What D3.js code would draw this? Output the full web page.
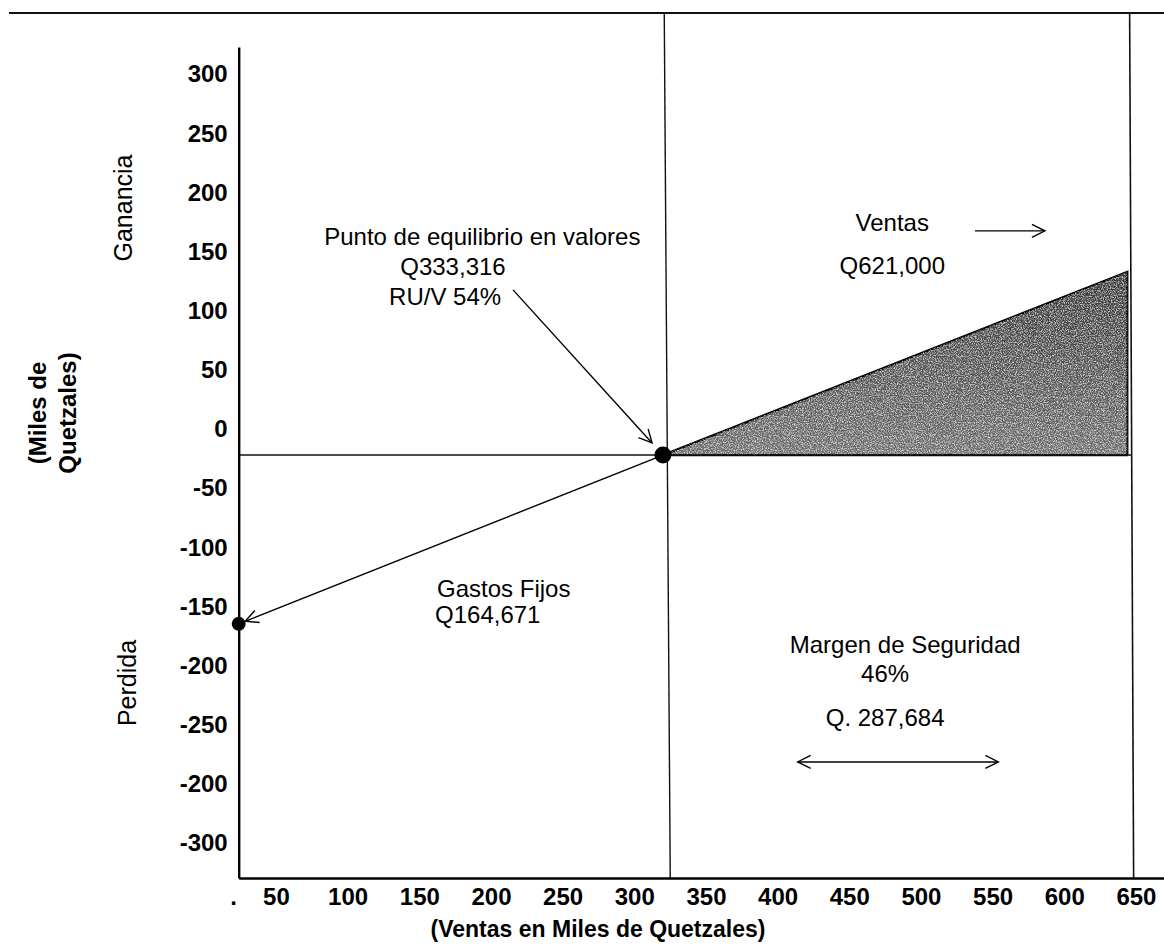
<!DOCTYPE html>
<html>
<head>
<meta charset="utf-8">
<script src="https://cdn.jsdelivr.net/npm/d3@7"></script>
<style>
  html, body { margin: 0; padding: 0; background: #fff; }
  svg { display: block; font-family: "Liberation Sans", Arial, sans-serif; }
</style>
</head>
<body>
<svg id="chart" width="1164" height="946"></svg>
<script>
// ---------- data ----------
const xTickValues = [20, 50, 100, 150, 200, 250, 300, 350, 400, 450, 500, 550, 600, 650];
const xTickLabels = [".", "50", "100", "150", "200", "250", "300", "350", "400", "450", "500", "550", "600", "650"];
const yTickValues = [300, 250, 200, 150, 100, 50, 0, -50, -100, -150, -200, -250, -300, -350];
const yTickLabels = ["300", "250", "200", "150", "100", "50", "0", "-50", "-100", "-150", "-200", "-250", "-200", "-300"];

const fixedCostPoint = [24, -164.671];   // Gastos fijos
const breakEvenPoint = [320, -22];       // Punto de equilibrio
const profitTop = [644, 133];            // Ventas line end
const baseLevel = -22;
const breakEvenLineX = 323;
const salesLineX = 647;

// annotations (data space)
const notes = [
  { text: "Punto de equilibrio en valores", x: 194, y: 162.5, anchor: "middle" },
  { text: "Q333,316", x: 173.5, y: 137.5, anchor: "middle" },
  { text: "RU/V 54%", x: 168, y: 112.5, anchor: "middle" },
  { text: "Ventas", x: 480, y: 174.5, anchor: "middle" },
  { text: "Q621,000", x: 480, y: 138, anchor: "middle" },
  { text: "Gastos Fijos", x: 162.4, y: -135, anchor: "start" },
  { text: "Q164,671", x: 161, y: -157, anchor: "start" },
  { text: "Margen de Seguridad", x: 489, y: -182.4, anchor: "middle" },
  { text: "46%", x: 475, y: -207, anchor: "middle" },
  { text: "Q. 287,684", x: 475, y: -244.2, anchor: "middle" }
];
const labelArrow = { from: [215.4, 117.7], to: [312.4, -11.7] };
const ventasArrow = { from: [537.7, 167.6], to: [586.5, 167.6] };
const marginArrow = { from: [414, -281.4], to: [554, -281.4] };

// ---------- scales ----------
const svg = d3.select("#chart");
const x = d3.scaleLinear().domain([24, 670]).range([238.7, 1164.6]);
const y = d3.scaleLinear().domain([-379.5, 323]).range([878, 47]);

// defs
const defs = svg.append("defs");
function arrowMarker(id, orientAuto) {
  defs.append("marker")
    .attr("id", id).attr("viewBox", "-14 -8 16 16")
    .attr("refX", 0).attr("refY", 0)
    .attr("markerWidth", 16).attr("markerHeight", 16)
    .attr("markerUnits", "userSpaceOnUse")
    .attr("orient", orientAuto)
    .append("path").attr("d", "M-13,-6.5 L0,0 L-13,6.5")
    .attr("fill", "none").attr("stroke", "#000").attr("stroke-width", 1.4);
}
arrowMarker("arrowEnd", "auto");
arrowMarker("arrowStart", "auto-start-reverse");

const grad = defs.append("linearGradient").attr("id", "triGrad")
  .attr("x1", 0).attr("y1", 0).attr("x2", 0).attr("y2", 1);
grad.append("stop").attr("offset", "0%").attr("stop-color", "#333");
grad.append("stop").attr("offset", "100%").attr("stop-color", "#6a6a6a");

const grain = defs.append("filter").attr("id", "grain")
  .attr("x", 0).attr("y", 0).attr("width", "100%").attr("height", "100%");
grain.append("feTurbulence").attr("type", "fractalNoise")
  .attr("baseFrequency", 0.85).attr("numOctaves", 2).attr("seed", 7).attr("result", "noise");
grain.append("feColorMatrix").attr("in", "noise").attr("type", "matrix")
  .attr("values", "0 0 0 0 1  0 0 0 0 1  0 0 0 0 1  3.2 0 0 0 -1.3").attr("result", "speck");
grain.append("feComposite").attr("in", "speck").attr("in2", "SourceGraphic").attr("operator", "in");

// ---------- frame line at top ----------
svg.append("line").attr("x1", 9).attr("x2", 1164).attr("y1", 13).attr("y2", 13)
  .attr("stroke", "#111").attr("stroke-width", 2);

// ---------- profit triangle ----------
const triPts = [breakEvenPoint, profitTop, [profitTop[0], baseLevel]];
const triPath = d3.line().x(d => x(d[0])).y(d => y(d[1]));
svg.append("path").attr("d", triPath(triPts) + "Z")
  .attr("fill", "url(#triGrad)").attr("stroke", "#000").attr("stroke-width", 2.2)
  .attr("stroke-linejoin", "miter");
svg.append("path").attr("d", triPath(triPts) + "Z")
  .attr("fill", "#fff").attr("filter", "url(#grain)").attr("opacity", 0.7);

// ---------- reference lines ----------
svg.append("line")
  .attr("x1", x(breakEvenLineX) - 3).attr("x2", x(breakEvenLineX) + 3)
  .attr("y1", 13).attr("y2", y(-379.5))
  .attr("stroke", "#111").attr("stroke-width", 1.4);
svg.append("line")
  .attr("x1", x(salesLineX) - 2).attr("x2", x(salesLineX) + 2)
  .attr("y1", 13).attr("y2", y(-379.5))
  .attr("stroke", "#111").attr("stroke-width", 1.6);
svg.append("line")
  .attr("x1", x(24)).attr("x2", x(salesLineX))
  .attr("y1", y(baseLevel)).attr("y2", y(baseLevel))
  .attr("stroke", "#111").attr("stroke-width", 1.5);

// ---------- loss line with arrow to fixed cost ----------
{
  const x1 = x(breakEvenPoint[0]), y1 = y(breakEvenPoint[1]);
  const x2 = x(fixedCostPoint[0]), y2 = y(fixedCostPoint[1]);
  const len = Math.hypot(x2 - x1, y2 - y1);
  const k = (len - 7) / len;
  svg.append("line").attr("x1", x1).attr("y1", y1)
    .attr("x2", x1 + (x2 - x1) * k).attr("y2", y1 + (y2 - y1) * k)
    .attr("stroke", "#000").attr("stroke-width", 1.4)
    .attr("marker-end", "url(#arrowEnd)");
}

// ---------- annotation arrows ----------
function arrow(a, both) {
  const l = svg.append("line")
    .attr("x1", x(a.from[0])).attr("y1", y(a.from[1]))
    .attr("x2", x(a.to[0])).attr("y2", y(a.to[1]))
    .attr("stroke", "#000").attr("stroke-width", 1.4)
    .attr("marker-end", "url(#arrowEnd)");
  if (both) l.attr("marker-start", "url(#arrowStart)");
}
arrow(labelArrow, false);
arrow(ventasArrow, false);
arrow(marginArrow, true);

// ---------- points ----------
svg.append("circle").attr("cx", x(breakEvenPoint[0])).attr("cy", y(breakEvenPoint[1]))
  .attr("r", 8.5).attr("fill", "#000");
svg.append("circle").attr("cx", x(fixedCostPoint[0])).attr("cy", y(fixedCostPoint[1]))
  .attr("r", 7).attr("fill", "#000");

// ---------- axes ----------
const xAxis = d3.axisBottom(x).tickValues(xTickValues)
  .tickFormat((d, i) => xTickLabels[i]).tickSize(0).tickPadding(10);
const gx = svg.append("g").attr("transform", `translate(0,${y(-379.5)})`).call(xAxis);
gx.select(".domain").attr("stroke", "#000").attr("stroke-width", 2.4);
gx.selectAll("text").attr("font-size", 24).attr("font-weight", "bold")
  .attr("font-family", "Liberation Sans, Arial, sans-serif").attr("fill", "#000");

const yAxis = d3.axisLeft(y).tickValues(yTickValues)
  .tickFormat((d, i) => yTickLabels[i]).tickSize(0).tickPadding(11);
const gy = svg.append("g").attr("transform", `translate(${x(24)},0)`).call(yAxis);
gy.select(".domain").attr("stroke", "#000").attr("stroke-width", 2.4);
gy.selectAll("text").attr("font-size", 24).attr("font-weight", "bold")
  .attr("font-family", "Liberation Sans, Arial, sans-serif").attr("fill", "#000");

// ---------- axis titles ----------
svg.append("text").attr("x", 598).attr("y", 937).attr("text-anchor", "middle")
  .attr("font-size", 23).attr("font-weight", "bold")
  .text("(Ventas en Miles de Quetzales)");

function vtext(txt, cx, cy, bold) {
  svg.append("text").attr("transform", `translate(${cx},${cy}) rotate(-90)`)
    .attr("text-anchor", "middle").attr("dominant-baseline", "central")
    .attr("font-size", bold ? 24 : 25).attr("font-weight", bold ? "bold" : "normal")
    .text(txt);
}
vtext("Ganancia", 123, 208, false);
vtext("(Miles de", 37, 413, true);
vtext("Quetzales)", 67, 413, true);
vtext("Perdida", 127, 683, false);

// ---------- annotation texts ----------
svg.selectAll("text.note").data(notes).join("text")
  .attr("class", "note")
  .attr("x", d => x(d.x)).attr("y", d => y(d.y))
  .attr("text-anchor", d => d.anchor).attr("dominant-baseline", "central")
  .attr("font-size", 24).attr("fill", "#000")
  .text(d => d.text);
</script>
</body>
</html>
